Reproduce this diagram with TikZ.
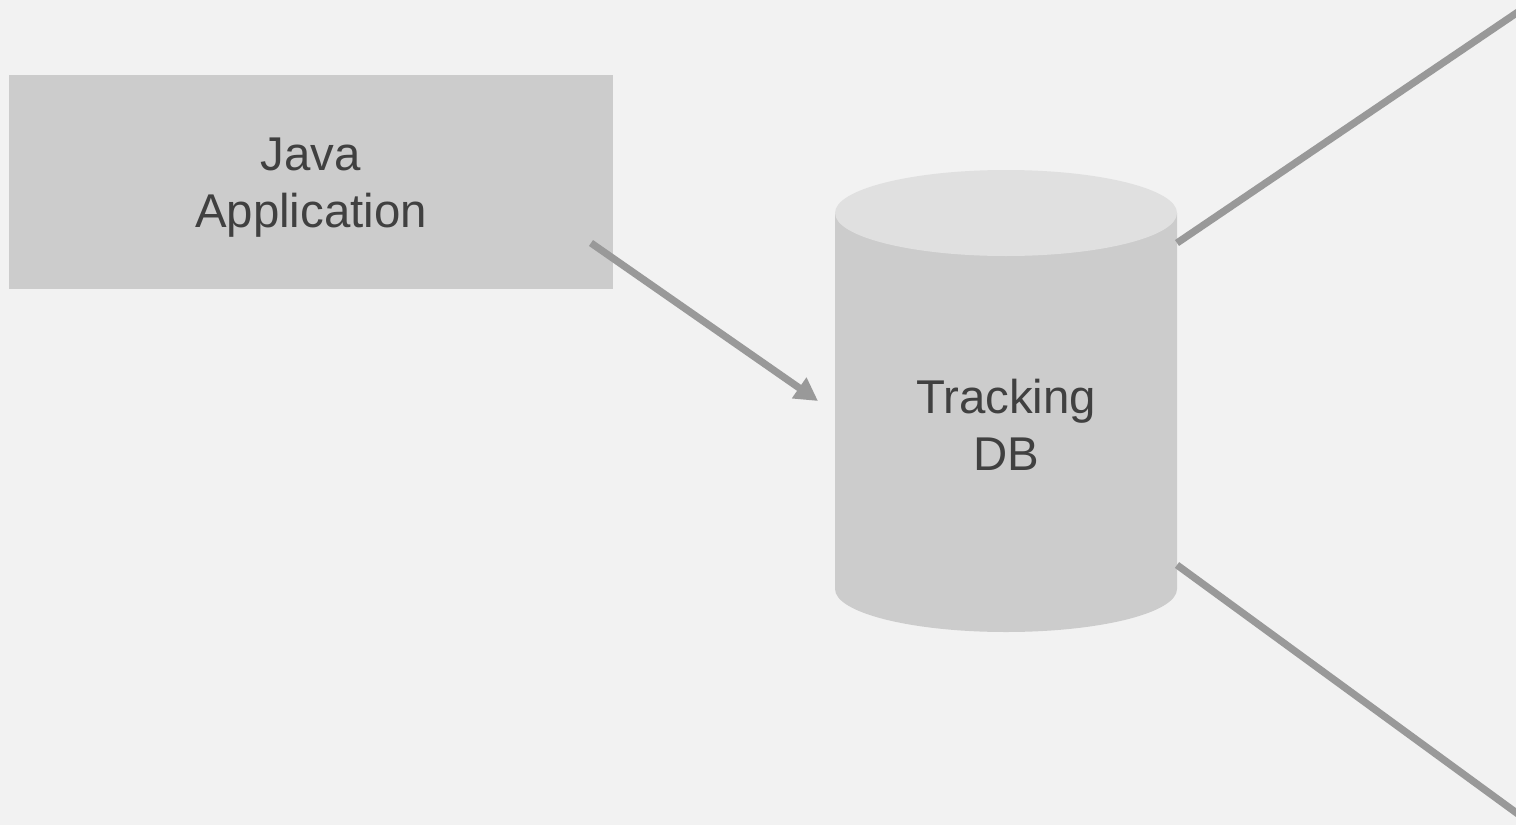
\documentclass[tikz,border=0pt]{standalone}
\usepackage{fontspec}
\setmainfont{Liberation Sans}
\usetikzlibrary{arrows.meta}
\definecolor{bg}{HTML}{F2F2F2}
\definecolor{boxfill}{HTML}{CCCCCC}
\definecolor{capfill}{HTML}{E0E0E0}
\definecolor{wire}{HTML}{999999}
\definecolor{ink}{HTML}{404040}
\tikzset{
  label text/.style={text=ink, font=\fontsize{23.7pt}{28.5pt}\selectfont, align=center},
  wire line/.style={draw=wire, line width=3.6pt},
  wire arrow/.style={wire line, -{Triangle[length=11.5pt,width=12pt]}},
}
\begin{document}
\begin{tikzpicture}[x=0.5pt, y=-0.5pt]
  % canvas
  \fill[bg] (0,0) rectangle (1516,825);
  \useasboundingbox (0,0) rectangle (1516,825);

  % application box
  \fill[boxfill] (9,75) rectangle (613,289);
  \node[label text] (app) at (311,188) {Java\\Application};

  % database cylinder
  \fill[boxfill] (835,213) -- (835,589) arc[start angle=180, end angle=360, x radius=171, y radius=-43] -- (1177,213) -- cycle;
  \fill[capfill] (1006,213) ellipse[x radius=171, y radius=43];
  \node[label text] (db) at (1006,425) {Tracking\\DB};

  % connector end points
  \coordinate (appout) at (591,243);
  \coordinate (dbin) at (818,401);
  \coordinate (dbtop) at (1177,243);
  \coordinate (dbbot) at (1177,565);
  \coordinate (outtop) at (1518,12);
  \coordinate (outbot) at (1518,814);

  % connectors
  \draw[wire arrow] (appout) -- (dbin);
  \draw[wire line] (dbtop) -- (outtop);
  \draw[wire line] (dbbot) -- (outbot);
\end{tikzpicture}
\end{document}
